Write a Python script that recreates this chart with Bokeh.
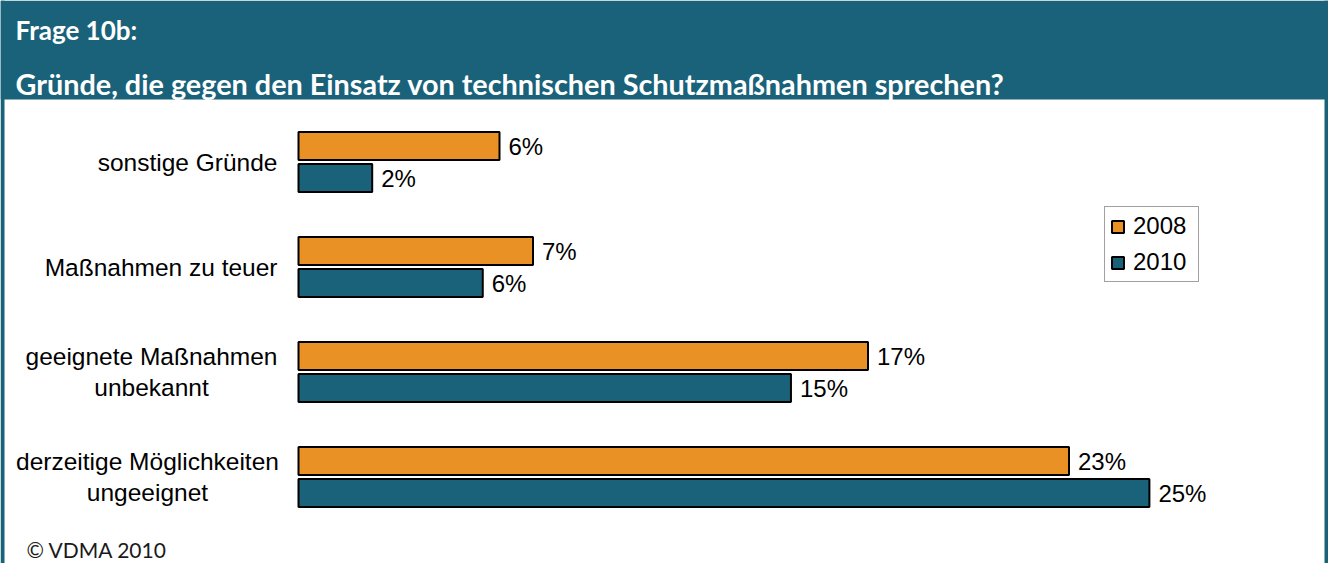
from bokeh.plotting import figure
from bokeh.models import Range1d, BoxAnnotation, Span, Label, ColumnDataSource
from bokeh.core.properties import value
from bokeh.embed import file_html
from bokeh.resources import INLINE

# ---- data ----
categories = [
    "sonstige Gründe",
    "Maßnahmen zu teuer",
    "geeignete Maßnahmen\nunbekannt",
    "derzeitige Möglichkeiten\nungeeignet",
]
series_names = ["2008", "2010"]
values_2008 = [6.0, 7.0, 17.0, 23.0]
values_2010 = [2.2, 5.5, 14.7, 25.4]
title_small = "Frage 10b:"
title_main = "Gründe, die gegen den Einsatz von technischen Schutzmaßnahmen sprechen?"
credit = "© VDMA 2010"

# ---- style ----
ORANGE = "#EA9125"
TEAL = "#1A6279"
W, H = 1328, 563
PX = 33.5      # pixels per percent
X0 = 298       # canvas px of 0 %
ROW = 105      # pixels per category row
Y0 = 161.5     # canvas px of first row centre
BAR_H = 28
BAR_OFF = 16


def dx(cx):
    return (cx - X0) / PX


def dy(cy):
    return (cy - Y0) / ROW


p = figure(width=W, height=H, output_backend="svg", toolbar_location=None,
           x_range=Range1d(dx(0), dx(W)), y_range=Range1d(dy(H), dy(0)),
           x_axis_type=None, y_axis_type=None, min_border=0)
p.outline_line_color = None
p.xgrid.visible = False
p.ygrid.visible = False
p.background_fill_color = "white"
p.border_fill_color = "white"

idx = list(range(len(categories)))
pos_2008 = [i - BAR_OFF / ROW for i in idx]
pos_2010 = [i + BAR_OFF / ROW for i in idx]
src08 = ColumnDataSource(dict(y=pos_2008, v=values_2008,
                              lab=[f"{round(v)}%" for v in values_2008]))
src10 = ColumnDataSource(dict(y=pos_2010, v=values_2010,
                              lab=[f"{round(v)}%" for v in values_2010]))

p.hbar(y="y", left=0, right="v", height=BAR_H / ROW, source=src08,
       fill_color=ORANGE, line_color="black", line_width=2,
       legend_label=series_names[0])
p.hbar(y="y", left=0, right="v", height=BAR_H / ROW, source=src10,
       fill_color=TEAL, line_color="black", line_width=2,
       legend_label=series_names[1])

for src in (src08, src10):
    p.text(x="v", y="y", text="lab", source=src, x_offset=9,
           text_align="left", text_baseline="middle",
           text_font=value("Liberation Sans"), text_font_size="24px",
           text_color="black")

# category labels
single = [i for i, c in enumerate(categories) if "\n" not in c]
multi = [i for i, c in enumerate(categories) if "\n" in c]
p.text(x=[0] * len(single), y=single, text=[categories[i] for i in single],
       x_offset=-21, text_align="right", text_baseline="middle",
       text_font=value("Liberation Sans"), text_font_size="24.5px",
       text_color="black")
centres = {2: dx(151), 3: dx(147)}
p.text(x=[centres[i] for i in multi], y=multi, text=[categories[i] for i in multi],
       text_align="center", text_baseline="middle", text_line_height=1.12,
       text_font=value("Liberation Sans"), text_font_size="24.5px",
       text_color="black")

# header band and frame
p.add_layout(BoxAnnotation(bottom=dy(99), fill_color=TEAL, fill_alpha=1.0,
                           line_alpha=0))
p.add_layout(Span(location=dx(2), dimension="height", line_color=TEAL, line_width=4))
p.add_layout(Span(location=dx(W - 2), dimension="height", line_color=TEAL, line_width=4))

p.add_layout(Label(x=dx(15), y=dy(29), text=title_small, text_font="Lato",
                   text_font_style="bold", text_font_size="26px", text_color="white",
                   text_baseline="alphabetic"))
p.add_layout(Label(x=dx(15), y=dy(83), text=title_main, text_font="Lato",
                   text_font_style="bold", text_font_size="28.8px", text_color="white",
                   text_baseline="alphabetic"))
p.add_layout(Label(x=dx(26), y=dy(549), text=credit, text_font="Lato",
                   text_font_size="21px", text_color="#1a1a1a",
                   text_baseline="alphabetic"))

# legend
lg = p.legend[0]
lg.location = (1104, 281)
lg.glyph_width = 15
lg.glyph_height = 15
lg.label_text_font = "Liberation Sans"
lg.label_text_font_size = "24px"
lg.label_text_color = "black"
lg.label_standoff = 8
lg.label_width = 60
lg.padding = 5
lg.spacing = 8
lg.margin = 0
lg.border_line_color = "#444444"
lg.border_line_width = 1
lg.background_fill_alpha = 1

open("out.html", "w").write(file_html(p, INLINE))
